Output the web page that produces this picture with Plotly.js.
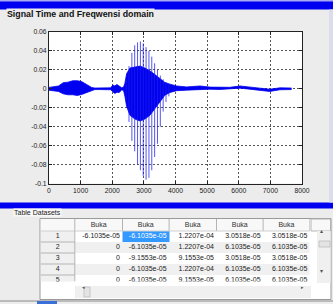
<!DOCTYPE html>
<html><head><meta charset="utf-8">
<script src="https://cdn.plot.ly/plotly-3.0.1.min.js"></script>
<style>html,body{margin:0;padding:0;background:#ECECEC;overflow:hidden}#chart{width:333px;height:304px}</style>
</head><body><div id="chart"></div>
<script>
// ---- signal: envelope (sample index, upper, lower) ----
const sampleIdx = [0,100,200,300,450,600,750,900,1030,1140,1240,1350,1450,1600,1800,1950,2020,2080,2150,2220,2300,2360,2400,2455,2560,2720,2880,3030,3190,3350,3510,3665,3825,4035,4350,4550,4770,5090,5400,5720,6040,6350,6670,6980,7300,7670];
const upperEnv = [0.0015,0.002,0.0025,0.003,0.0065,0.007,0.0085,0.0085,0.0077,0.0053,0.0032,0.0014,0.0008,0.0008,0.0008,0.001,0.004,0.003,0.0045,0.0025,0.001,0.002,0.006,0.0160,0.0220,0.023,0.024,0.022,0.019,0.0150,0.011,0.0067,0.0049,0.003,0.002,0.0025,0.003,0.0018,0.0014,0.0016,0.003,0.0016,0.0007,-0.0004,0.001,0.0008];
const lowerEnv = [-0.0015,-0.0018,-0.0022,-0.0028,-0.0053,-0.0063,-0.0063,-0.007,-0.006,-0.0046,-0.0028,-0.0014,-0.0008,-0.0008,-0.0008,-0.001,-0.003,-0.005,-0.0035,-0.004,-0.001,-0.002,-0.008,-0.0187,-0.028,-0.032,-0.034,-0.032,-0.028,-0.021,-0.0127,-0.0067,-0.0039,-0.002,-0.0014,-0.001,-0.0003,-0.0004,-0.0007,-0.0004,0.0007,-0.0004,-0.0014,-0.0028,-0.001,-0.0008];
// individual oscillation strokes in the main burst
const strokeIdx = [2440,2530,2620,2710,2800,2890,2980,3070,3160,3250,3340,3430,3520,3610,3700,3790];
const strokeTop = [0.010,0.024,0.038,0.046,0.049,0.050,0.048,0.044,0.040,0.034,0.027,0.020,0.014,0.010,0.007,0.005];
const strokeBottom = [-0.012,-0.035,-0.055,-0.066,-0.080,-0.086,-0.092,-0.096,-0.094,-0.086,-0.072,-0.058,-0.040,-0.024,-0.014,-0.008];
// axis ticks
const xTickVals = [0,1000,2000,3000,4000,5000,6000,7000,8000];
const yTickVals = [-0.1,-0.08,-0.06,-0.04,-0.02,0,0.02,0.04,0.06];
const yTickText = ['-0.1','-0.08','-0.06','-0.04','-0.02','0','0.02','0.04','0.06'];
// ---- table ----
const tableHeader = ['', 'Buka', 'Buka', 'Buka', 'Buka', 'Buka'];
const rowLabels = ['1','2','3','4','5'];
const buka1 = ['-6.1035e-05','0','0','0','0'];
const buka2 = ['-6.1035e-05','-6.1035e-05','-9.1553e-05','-6.1035e-05','-6.1035e-05'];
const buka3 = ['1.2207e-04','1.2207e-04','9.1553e-05','1.2207e-04','9.1553e-05'];
const buka4 = ['3.0518e-05','6.1035e-05','3.0518e-05','6.1035e-05','6.1035e-05'];
const buka5 = ['3.0518e-05','6.1035e-05','3.0518e-05','6.1035e-05','6.1035e-05'];
const panelTitle = 'Signal Time and Freqwensi domain';
const tableTitle = 'Table Datasets';

// ---- layout helpers ----
const W = 333, H = 304;
const px = v => v / W;
const py = v => 1 - v / H;
const FONT = 'Arial, "Liberation Sans", sans-serif';
const BLUE = '#0000F0';

// table geometry (layout, in pixels)
const colW = [34.3, 47.7, 46.6, 47.4, 46.6, 46.7];
const colEdges = [0]; colW.forEach(w => colEdges.push(colEdges[colEdges.length - 1] + w));
const headH = 12, rowH = 11, tableVisH = 62.5;
const rowEdges = [0, headH]; rowLabels.forEach(() => rowEdges.push(rowEdges[rowEdges.length - 1] + rowH));
const tableW = colEdges[colEdges.length - 1];

const strokeX = [], strokeY = [];
strokeIdx.forEach((s, i) => { strokeX.push(s, s, null); strokeY.push(strokeTop[i], strokeBottom[i], null); });

const cellCols = [rowLabels, buka1, buka2, buka3, buka4, buka5];
// background codes: 0 white, 1 stripe grey, 2 header, 3 selected
const zCells = [tableHeader.map(() => 2)];
rowLabels.forEach((_, i) => zCells.push(cellCols.map((c, j) => j === 0 ? 1 : (j === 2 && i === 0 ? 3 : (i % 2 ? 1 : 0)))));

const txtX = [], txtY = [], txt = [], txtPos = [], txtCol = [];
cellCols.forEach((col, j) => col.forEach((v, i) => {
  const right = j > 0;
  txtX.push(right ? colEdges[j + 1] - 2.5 : (colEdges[j] + colEdges[j + 1]) / 2);
  txtY.push(headH + rowH * i + rowH / 2);
  txt.push(v);
  txtPos.push(right ? 'middle left' : 'middle center');
  txtCol.push(j === 2 && i === 0 ? '#FFFFFF' : '#222222');
}));
const hdrX = [], hdrY = [], hdrTxt = [];
tableHeader.forEach((h, j) => { hdrX.push((colEdges[j] + colEdges[j + 1]) / 2); hdrY.push(headH / 2 + 0.5); hdrTxt.push(h); });

const traces = [
  {x: sampleIdx, y: upperEnv, type: 'scatter', mode: 'lines', line: {color: BLUE, width: 0.8}, hoverinfo: 'skip'},
  {x: sampleIdx, y: lowerEnv, type: 'scatter', mode: 'lines', fill: 'tonexty', fillcolor: BLUE, line: {color: BLUE, width: 0.8}, hoverinfo: 'skip'},
  {x: strokeX, y: strokeY, type: 'scatter', mode: 'lines', line: {color: 'rgba(30,30,235,0.75)', width: 1}, hoverinfo: 'skip'},
  {type: 'heatmap', xaxis: 'x2', yaxis: 'y2', x: colEdges, y: rowEdges, z: zCells, zmin: 0, zmax: 3, showscale: false,
    colorscale: [[0, '#FFFFFF'], [0.3333, '#F0F0F0'], [0.6667, '#F8F8F8'], [1, '#3399FF']], hoverinfo: 'skip'},
  {type: 'scatter', mode: 'text', xaxis: 'x2', yaxis: 'y2', x: txtX, y: txtY, text: txt, textposition: txtPos,
    textfont: {family: FONT, size: 7, color: txtCol}, hoverinfo: 'skip', cliponaxis: true},
  {type: 'scatter', mode: 'text', xaxis: 'x2', yaxis: 'y2', x: hdrX, y: hdrY, text: hdrTxt, textposition: 'middle center',
    textfont: {family: FONT, size: 7, color: '#333'}, hoverinfo: 'skip', cliponaxis: true}
];

const axisCommon = {
  ticks: 'inside', ticklen: 3, tickcolor: '#222', showline: true, linecolor: '#222', linewidth: 1,
  mirror: 'ticks', showgrid: true, gridcolor: '#555', griddash: '2px,2px', gridwidth: 1,
  zeroline: false, fixedrange: true, tickfont: {family: FONT, size: 6.8, color: '#1a1a1a'}
};

const rect = (x0, y0, x1, y1, fill, line, lw) => ({type: 'rect', xref: 'paper', yref: 'paper',
  x0: px(x0), x1: px(x1), y0: py(y1), y1: py(y0), fillcolor: fill,
  line: {color: line || fill, width: lw === undefined ? 0 : lw}, layer: 'below'});
const tline = (x0, y0, x1, y1, c) => ({type: 'line', xref: 'x2', yref: 'y2', x0, y0, x1, y1, line: {color: c, width: 1}, layer: 'above'});

const gridShapes = [];
for (let j = 1; j < colEdges.length; j++) gridShapes.push(tline(colEdges[j], 0, colEdges[j], headH, '#B4B4B4'));
gridShapes.push(tline(0, headH, tableW, headH, '#D0D0D0'));
gridShapes.push(tline(colEdges[1], headH, colEdges[1], tableVisH, '#B4B4B4'));
for (let i = 3; i < rowEdges.length; i++) gridShapes.push(tline(0, rowEdges[i - 1], colEdges[1], rowEdges[i - 1], '#B4B4B4'));

const layout = {
  width: W, height: H, margin: {l: 0, r: 0, t: 0, b: 0},
  paper_bgcolor: '#ECECEC', plot_bgcolor: '#FFFFFF', showlegend: false,
  xaxis: Object.assign({}, axisCommon, {domain: [px(49), px(302)], range: [0, 8000], tickvals: xTickVals}),
  yaxis: Object.assign({}, axisCommon, {domain: [py(183.5), py(32)], range: [-0.1, 0.06], tickvals: yTickVals, ticktext: yTickText}),
  xaxis2: {domain: [px(40.5), px(40.5 + tableW)], range: [0, tableW], visible: false, fixedrange: true, anchor: 'y2'},
  yaxis2: {domain: [py(219 + tableVisH), py(219)], range: [tableVisH, 0], visible: false, fixedrange: true, anchor: 'x2'},
  shapes: [
    rect(0, 0, 333, 2, '#A8A8F0'),
    rect(0, 1.5, 333, 9.5, BLUE),
    rect(0, 202.5, 333, 208.5, BLUE),
    rect(329, 9.5, 333, 202.5, '#DCDCEE'),
    rect(40, 218.5, 331, 299.5, '#FFFFFF', '#9A9A9A', 1),
    rect(311, 219, 330.5, 231, '#F8F8F8', '#B4B4B4', 1),
    rect(317, 231, 330.5, 283, '#F0F0F0'),
    rect(319, 241, 330, 247, '#E4E4E4', '#BBBBBB', 0.8),
    rect(75, 286, 311, 298, '#F0F0F0'),
    rect(84, 287, 90, 297, '#E4E4E4', '#BBBBBB', 0.8),
    rect(0, 300.5, 333, 304, '#ECECEC'),
    rect(0, 300.5, 333, 301.5, '#8A8A8A'),
    rect(37, 301, 57, 304, '#3A6FD8')
  ].concat(gridShapes),
  annotations: [
    {text: '<b>' + panelTitle + '</b>', xref: 'paper', yref: 'paper', x: px(6), y: py(13.5), xanchor: 'left', yanchor: 'middle',
      showarrow: false, font: {family: FONT, size: 8.8, color: '#111'}, bgcolor: '#ECECEC', borderpad: 0},
    {text: tableTitle, xref: 'paper', yref: 'paper', x: px(12.5), y: py(212.5), xanchor: 'left', yanchor: 'middle',
      showarrow: false, font: {family: FONT, size: 7, color: '#222'}, bgcolor: '#F8F8F8', borderpad: 0},
    {text: '▴', xref: 'paper', yref: 'paper', x: px(325), y: py(236.5), showarrow: false, font: {size: 6, color: '#555'}},
    {text: '▾', xref: 'paper', yref: 'paper', x: px(325), y: py(277), showarrow: false, font: {size: 6, color: '#555'}},
    {text: '◂', xref: 'paper', yref: 'paper', x: px(80), y: py(292), showarrow: false, font: {size: 5, color: '#555'}},
    {text: '▸', xref: 'paper', yref: 'paper', x: px(306), y: py(292), showarrow: false, font: {size: 5, color: '#555'}}
  ]
};

Plotly.newPlot('chart', traces, layout, {staticPlot: true, displayModeBar: false});
</script>
</body></html>
